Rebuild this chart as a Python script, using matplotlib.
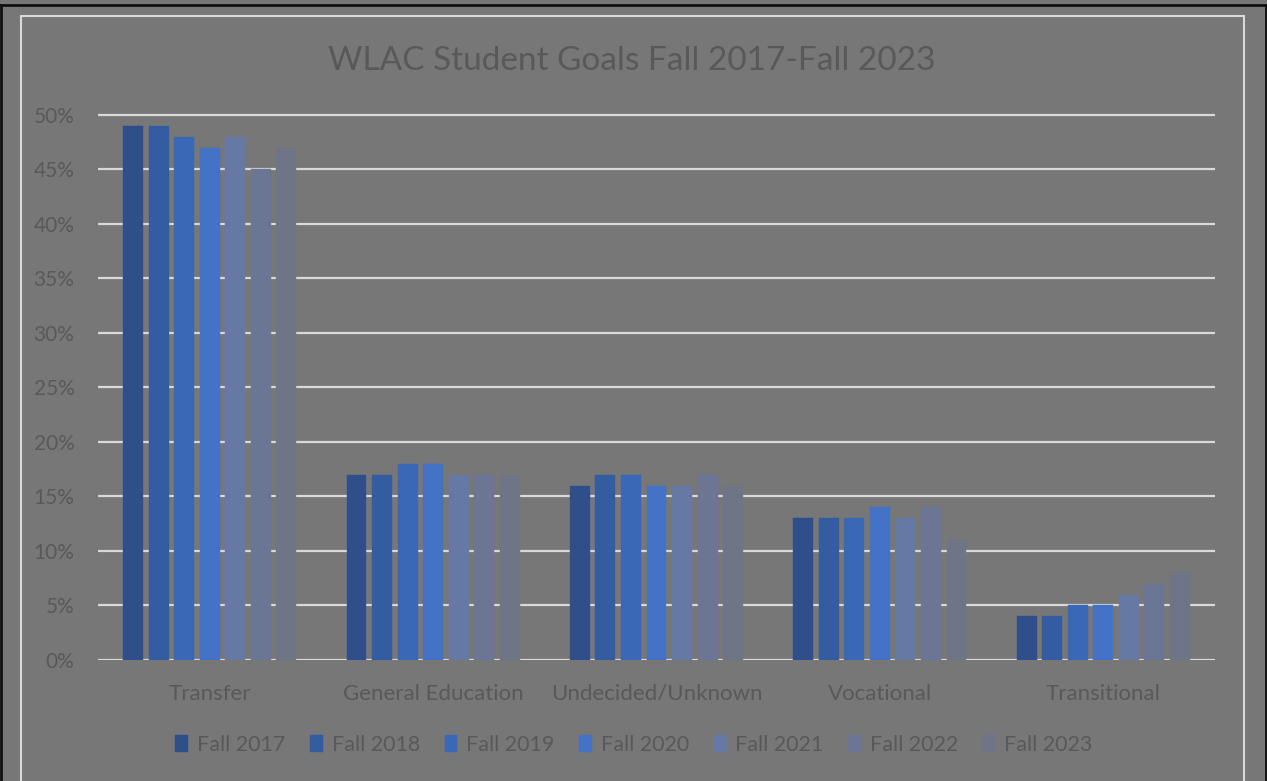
import numpy as np
import matplotlib.pyplot as plt
from matplotlib.patches import Rectangle
from matplotlib.lines import Line2D
from matplotlib.ticker import PercentFormatter

plt.rcParams['font.family'] = ['Lato', 'DejaVu Sans']

categories = ['Transfer', 'General Education', 'Undecided/Unknown', 'Vocational', 'Transitional']
years = ['Fall 2017', 'Fall 2018', 'Fall 2019', 'Fall 2020', 'Fall 2021', 'Fall 2022', 'Fall 2023']
fall_2017 = [0.49, 0.17, 0.16, 0.13, 0.04]
fall_2018 = [0.49, 0.17, 0.17, 0.13, 0.04]
fall_2019 = [0.48, 0.18, 0.17, 0.13, 0.05]
fall_2020 = [0.47, 0.18, 0.16, 0.14, 0.05]
fall_2021 = [0.48, 0.17, 0.16, 0.13, 0.06]
fall_2022 = [0.45, 0.17, 0.17, 0.14, 0.07]
fall_2023 = [0.47, 0.17, 0.16, 0.11, 0.08]
series = [fall_2017, fall_2018, fall_2019, fall_2020, fall_2021, fall_2022, fall_2023]
colors = ['#2f4f8b', '#335ca1', '#3b68b6', '#4472c4', '#6678a4', '#6a7693', '#6e7586']

bg = '#777777'
txt = '#595959'

fig = plt.figure(figsize=(12.67, 7.81), dpi=100, facecolor=bg)
W, H = 1267, 781

# outer frame lines
fig.add_artist(Line2D([1 / W, 1 / W], [0, 1 - 5 / H], color='#111111', lw=2, transform=fig.transFigure))
fig.add_artist(Line2D([1 / W, 1266 / W], [1 - 5 / H, 1 - 5 / H], color='#111111', lw=2, transform=fig.transFigure))
fig.add_artist(Line2D([1266 / W, 1266 / W], [0, 1 - 5 / H], color='#111111', lw=2, transform=fig.transFigure))
fig.add_artist(Rectangle((21 / W, -0.05), (1244 - 21) / W, 1 - 16 / H + 0.05, fill=False,
                         edgecolor='#d9d9d9', lw=1.5, transform=fig.transFigure))

ax = fig.add_axes([98 / W, 1 - 660 / H, (1215 - 98) / W, (660 - 109.5) / H])
ax.set_facecolor(bg)

x = np.arange(len(categories))
slot = 0.8 / len(series)
for i, (vals, col, lab) in enumerate(zip(series, colors, years)):
    ax.bar(x - 0.4 + slot * (i + 0.5), vals, width=slot * 0.78, color=col, label=lab,
           edgecolor=col, linewidth=0.3, zorder=3)

ax.set_xlim(-0.5, len(categories) - 0.5)
ax.set_ylim(0, 0.505)
ax.set_yticks(np.arange(0, 0.51, 0.05))
ax.yaxis.set_major_formatter(PercentFormatter(1.0, decimals=0))
ax.set_xticks(x)
ax.set_xticklabels(categories)
ax.grid(axis='y', color='#d9d9d9', lw=1.6, zorder=1)
for s in ax.spines.values():
    s.set_visible(False)
ax.tick_params(axis='both', length=0, colors=txt, labelsize=15)
ax.tick_params(axis='y', pad=17)
ax.tick_params(axis='x', pad=17, labelsize=16)

fig.text(632 / W, 1 - 61 / H, 'WLAC Student Goals Fall 2017-Fall 2023', ha='center', va='center',
         fontsize=24, color=txt)

fig.legend(loc='center', bbox_to_anchor=(634 / W, 1 - 745 / H), ncol=7, frameon=False,
           fontsize=15.5, labelcolor=txt, handlelength=0.6, handleheight=0.8,
           handletextpad=0.4, columnspacing=1.15)

fig.savefig('out.png', dpi=100, facecolor=bg)
